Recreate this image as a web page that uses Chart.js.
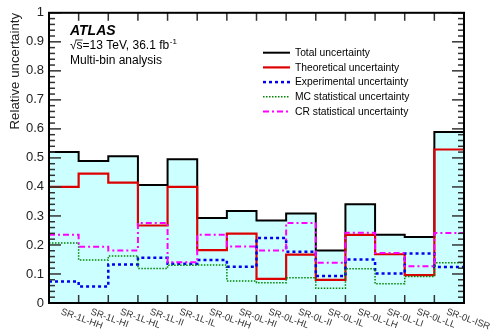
<!DOCTYPE html>
<html>
<head>
<meta charset="utf-8">
<script src="https://cdn.jsdelivr.net/npm/chart.js@4"></script>
<style>
  body { margin: 0; background: #fff; }
  #wrap { width: 493px; height: 331px; }
</style>
</head>
<body>
<div id="wrap"><canvas id="uncChart"></canvas></div>
<script>
const regions = ["SR-1L-HH", "SR-1L-HI", "SR-1L-HL", "SR-1L-II", "SR-1L-IL", "SR-0L-HH", "SR-0L-HI",
  "SR-0L-HL", "SR-0L-II", "SR-0L-IL", "SR-0L-LH", "SR-0L-LI", "SR-0L-LL", "SR-0L-ISR"];
const total = [0.520, 0.489, 0.506, 0.407, 0.495, 0.293, 0.317, 0.284, 0.308, 0.181, 0.340, 0.235, 0.227, 0.589];
const theory = [0.400, 0.446, 0.415, 0.267, 0.400, 0.182, 0.239, 0.083, 0.167, 0.080, 0.235, 0.168, 0.096, 0.529];
const experimental = [0.074, 0.057, 0.133, 0.156, 0.135, 0.148, 0.125, 0.224, 0.177, 0.093, 0.150, 0.102, 0.171, 0.124];
const mcStat = [0.207, 0.148, 0.162, 0.119, 0.130, 0.131, 0.076, 0.070, 0.087, 0.051, 0.118, 0.066, 0.091, 0.139];
const crStat = [0.235, 0.194, 0.181, 0.276, 0.140, 0.235, 0.195, 0.181, 0.276, 0.139, 0.242, 0.172, 0.127, 0.241];
const yTickLabels = ["0", "0.1", "0.2", "0.3", "0.4", "0.5", "0.6", "0.7", "0.8", "0.9", "1"];

const FONT = '"Liberation Sans", Arial, sans-serif';

// histogram steps: point i holds bin i, last point closes the final bin
const steps = vals => [...vals.map((v, i) => ({ x: i, y: v })), { x: vals.length, y: vals[vals.length - 1] }];

const series = [
  { label: "Total uncertainty", data: total, color: "#000000", width: 2, dash: [], order: 6 },
  { label: "Theoretical uncertainty", data: theory, color: "#dd0000", width: 2.2, dash: [], order: 5 },
  { label: "Experimental uncertainty", data: experimental, color: "#0000ee", width: 2.5, dash: [3, 3], order: 4 },
  { label: "MC statistical uncertainty", data: mcStat, color: "#008800", width: 1.5, dash: [1.5, 1.5], order: 3 },
  { label: "CR statistical uncertainty", data: crStat, color: "#ff00ff", width: 2, dash: [6, 3, 2, 3], order: 2 },
];

const decor = {
  id: "decor",
  afterDatasetsDraw(chart) {
    const { ctx, chartArea: a, scales: { x, y } } = chart;
    const line = (x1, y1, x2, y2) => { ctx.beginPath(); ctx.moveTo(x1, y1); ctx.lineTo(x2, y2); ctx.stroke(); };
    ctx.save();

    // y ticks, left and right, 5 subdivisions
    ctx.strokeStyle = "#333";
    ctx.lineWidth = 1.5;
    for (let k = 0; k <= 50; k++) {
      const py = y.getPixelForValue(k / 50);
      const len = k % 5 === 0 ? 12 : 6;
      line(a.left, py, a.left + len, py);
      line(a.right, py, a.right - len, py);
    }
    // x ticks at bin edges
    for (let i = 1; i < regions.length; i++) {
      const px = x.getPixelForValue(i);
      line(px, a.bottom, px, a.bottom - 8);
      line(px, a.top, px, a.top + 8);
    }
    // frame
    ctx.strokeStyle = "#000";
    ctx.lineWidth = 2;
    ctx.strokeRect(a.left, a.top, a.width, a.height);

    // rotated bin labels
    ctx.fillStyle = "#333";
    ctx.font = "9.5px " + FONT;
    ctx.textAlign = "left";
    ctx.textBaseline = "top";
    regions.forEach((r, i) => {
      ctx.save();
      ctx.translate(x.getPixelForValue(i + 0.5) - 1, a.bottom + 4);
      ctx.rotate(20 * Math.PI / 180);
      ctx.fillText(r, 0, 0);
      ctx.restore();
    });

    // ATLAS label
    ctx.textBaseline = "alphabetic";
    ctx.fillStyle = "#000";
    ctx.font = "italic bold 14px " + FONT;
    ctx.fillText("ATLAS", 70, 35);
    ctx.font = "12px " + FONT;
    const txt = "\u221As=13 TeV, 36.1 fb";
    ctx.fillText(txt, 70, 49);
    const sqW = ctx.measureText("\u221A").width;
    const sW = ctx.measureText("s").width;
    ctx.lineWidth = 0.8;
    line(70 + sqW - 1, 40, 70 + sqW + sW, 40);
    const tW = ctx.measureText(txt).width;
    ctx.font = "8px " + FONT;
    ctx.fillText("-1", 70 + tW + 0.5, 44);
    ctx.font = "12px " + FONT;
    ctx.fillText("Multi-bin analysis", 70, 64);

    // legend
    ctx.font = "10.3px " + FONT;
    ctx.textBaseline = "middle";
    chart.data.datasets.slice(1).forEach((ds, i) => {
      const ly = 52.7 + i * 14.7;
      ctx.strokeStyle = ds.borderColor;
      ctx.lineWidth = ds.borderWidth;
      ctx.setLineDash(ds.borderDash);
      line(263, ly, 290, ly);
      ctx.setLineDash([]);
      ctx.fillStyle = "#000";
      ctx.fillText(ds.label, 295, ly + 0.5);
    });
    ctx.restore();
  }
};

new Chart(document.getElementById("uncChart").getContext("2d"), {
  type: "line",
  data: {
    datasets: [
      {
        label: "fill",
        data: steps(total),
        stepped: "before",
        fill: "origin",
        backgroundColor: "#ccffff",
        borderWidth: 0,
        order: 10,
      },
      ...series.map(s => ({
        label: s.label,
        data: steps(s.data),
        stepped: "before",
        fill: false,
        borderColor: s.color,
        borderWidth: s.width,
        borderDash: s.dash,
        order: s.order,
      })),
    ],
  },
  options: {
    responsive: true,
    maintainAspectRatio: false,
    animation: false,
    layout: { padding: { top: 10, right: 29, left: 0, bottom: 0 } },
    elements: { point: { radius: 0 } },
    scales: {
      x: {
        type: "linear",
        min: 0,
        max: regions.length,
        ticks: { display: false },
        grid: { display: false },
        border: { display: false },
        afterFit: s => { s.height = 28; },
      },
      y: {
        min: 0,
        max: 1,
        ticks: {
          stepSize: 0.1,
          padding: 5,
          color: "#222",
          font: { size: 13, family: FONT },
          callback: (v, i) => yTickLabels[i],
        },
        grid: { display: false, drawTicks: false },
        border: { display: false },
        title: {
          display: true,
          text: "Relative uncertainty",
          align: "end",
          color: "#222",
          font: { size: 13.3, family: FONT },
          padding: { top: 7, bottom: 0 },
        },
        afterFit: s => { s.width = 49; },
      },
    },
    plugins: {
      legend: { display: false },
      tooltip: { enabled: false },
    },
  },
  plugins: [decor],
});
</script>
</body>
</html>
